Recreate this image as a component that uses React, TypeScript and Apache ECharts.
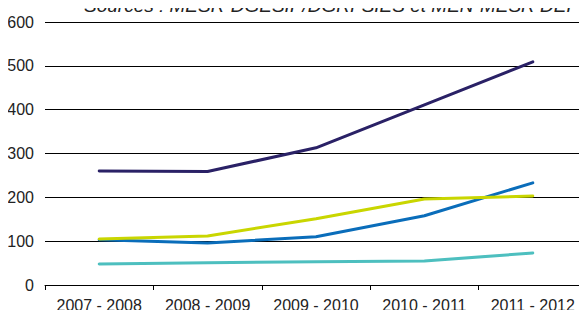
import React, { useEffect, useRef } from "react";
import * as echarts from "echarts";

const categories = ["2007 - 2008", "2008 - 2009", "2009 - 2010", "2010 - 2011", "2011 - 2012"];
const navySeries = [260, 259, 313, 411, 509];
const blueSeries = [103, 96, 110, 158, 233];
const yellowSeries = [105, 112, 151, 196, 203];
const tealSeries = [48, 51, 53, 55, 73];
const sourceText = "Sources : MESR-DGESIP/DGRI-SIES et MEN-MESR DEPP";

export default function App() {
  const ref = useRef<HTMLDivElement>(null);
  useEffect(() => {
    const chart = echarts.init(ref.current!, undefined, { renderer: "svg" });
    const mk = (data: number[], color: string) => ({
      type: "line",
      data,
      symbol: "none",
      lineStyle: { color, width: 3, cap: "round" },
      itemStyle: { color },
    });
    chart.setOption({
      animation: false,
      textStyle: { fontFamily: "Liberation Sans" },
      grid: { left: 45, right: -1, top: 22, bottom: 33 },
      graphic: [
        {
          type: "text",
          x: 84,
          y: 15,
          z: 100,
          style: {
            text: sourceText,
            fontSize: 19,
            fontStyle: "italic",
            fontFamily: "Liberation Sans",
            fill: "#222222",
            verticalAlign: "bottom",
            align: "left",
          },
        },
      ],
      xAxis: {
        type: "category",
        data: categories,
        boundaryGap: true,
        axisLine: { lineStyle: { color: "#000", width: 1 } },
        axisTick: { show: true, length: 5, lineStyle: { color: "#000" } },
        axisLabel: { color: "#222", fontSize: 16, margin: 12, interval: 0, hideOverlap: false },
      },
      yAxis: {
        type: "value",
        min: 0,
        max: 600,
        interval: 100,
        axisLine: { show: false },
        axisTick: { show: false },
        axisLabel: { color: "#222", fontSize: 16, margin: 11 },
        splitLine: { lineStyle: { color: "#000", width: 1 } },
      },
      series: [
        mk(tealSeries, "#4dbfbf"),
        mk(blueSeries, "#0a6dba"),
        mk(yellowSeries, "#c9d600"),
        mk(navySeries, "#2a2166"),
      ],
    });
    return () => chart.dispose();
  }, []);
  return <div ref={ref} style={{ width: 587, height: 318, margin: -8 }} />;
}
